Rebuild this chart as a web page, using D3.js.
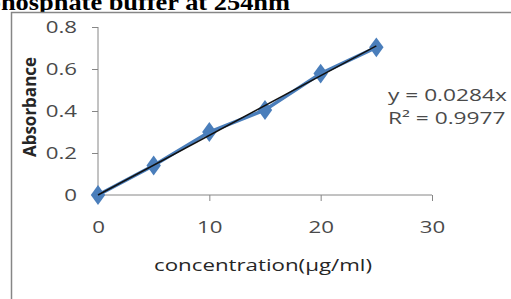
<!DOCTYPE html>
<html>
<head>
<meta charset="utf-8">
<script src="https://cdn.jsdelivr.net/npm/d3@7"></script>
<style>
	body { margin: 0; background: #fff; }
	svg { display: block; }
</style>
</head>
<body>
<div id="container"></div>
<script>
var concentration = [0, 5, 10, 15, 20, 25];
var absorbance = [0, 0.14, 0.30, 0.405, 0.578, 0.703];
var xTicks = [0, 10, 20, 30];
var yTicks = [0, 0.2, 0.4, 0.6, 0.8];
var slope = 0.0284;
var equationLines = ["y = 0.0284x", "R² = 0.9977"];

var width = 511,
	height = 299,
	stretch = 1.35,   // the picture is wider than it is tall, text too
	font = "'Open Sans', 'Noto Sans', sans-serif",
	grey = "#868686",
	blue = "#4a7ebb";

var xScale = d3.scaleLinear()
	.domain([0, 30])
	.range([98, 432])

var yScale = d3.scaleLinear()
	.domain([0, 0.8])
	.range([195, 27])

var svg = d3.select("#container")
	.append('svg')
		.attr("width", width)
		.attr("height", height)

// title, cut off by the top edge
svg.append("text")
	.attr("transform", "translate(290,9.5) scale(1.1,1)")
	.attr("text-anchor", "end")
	.style("font-family", "'Liberation Serif', serif")
	.style("font-weight", "bold")
	.style("font-size", "24px")
	.text("phosphate buffer at 254nm")

// chart frame
svg.append("rect")
	.attr("x", 11.5)
	.attr("y", 12.5)
	.attr("width", 520)
	.attr("height", 300)
	.attr("fill", "#fff")
	.attr("stroke", grey)
	.attr("stroke-width", 1.5)

// axes
var yAxis = d3.axisLeft(yScale)
	.tickValues(yTicks)
	.tickSize(6)
	.tickPadding(15)
	.tickFormat(function(d){ return d === 0 ? "0" : d3.format(".1f")(d) })

var xAxis = d3.axisBottom(xScale)
	.tickValues(xTicks)
	.tickSize(6)
	.tickPadding(20)
	.tickFormat(d3.format("d"))

var gy = svg.append("g")
	.attr("transform", "translate(" + xScale(0) + ",0)")
	.call(yAxis)
gy.select(".domain").remove()
gy.append("line")
	.attr("x1", 0).attr("x2", 0)
	.attr("y1", yScale(0.8)).attr("y2", yScale(0))
	.attr("stroke", grey)
gy.selectAll(".tick").filter(function(d){ return d === 0 }).select("line").remove()

var gx = svg.append("g")
	.attr("transform", "translate(0," + yScale(0) + ")")
	.call(xAxis)
gx.select(".domain").remove()
gx.append("line")
	.attr("x1", xScale(0)).attr("x2", xScale(30))
	.attr("y1", 0).attr("y2", 0)
	.attr("stroke", grey)
gx.selectAll(".tick").filter(function(d){ return d === 0 }).select("line").remove()

svg.selectAll(".tick line").attr("stroke", grey)
svg.selectAll(".tick text")
	.style("font-family", font)
	.style("font-size", "16.5px")
	.attr("fill", "#4a4a4a")
	.attr("x", function(){ return (+d3.select(this).attr("x") || 0) / stretch })
	.attr("transform", "scale(" + stretch + ",1)")

// axis titles
svg.append("text")
	.attr("transform", "translate(36,107) rotate(-90)")
	.attr("text-anchor", "middle")
	.style("font-family", font)
	.style("font-weight", "bold")
	.style("font-size", "17px")
	.attr("fill", "#262626")
	.text("Absorbance")

svg.append("text")
	.attr("transform", "translate(263,271) scale(" + stretch + ",1)")
	.attr("text-anchor", "middle")
	.style("font-family", font)
	.style("font-size", "16.5px")
	.attr("fill", "#262626")
	.text("concentration(µg/ml)")

// data series
var line = d3.line()
	.x(function(d, i){ return xScale(concentration[i]) })
	.y(function(d){ return yScale(d) })

svg.append("path")
	.datum(absorbance)
	.attr("d", line)
	.attr("fill", "none")
	.attr("stroke", blue)
	.attr("stroke-width", 3.5)

svg.selectAll(".pt")
	.data(absorbance)
	.enter().append("path")
		.attr("class", "pt")
		.attr("d", d3.symbol().type(d3.symbolDiamond).size(115))
		.attr("transform", function(d, i){
			return "translate(" + xScale(concentration[i]) + "," + yScale(d) + ") scale(1.25,1)"
		})
		.attr("fill", blue)

// linear trendline
var xMax = d3.max(concentration);
svg.append("line")
	.attr("x1", xScale(0)).attr("y1", yScale(0))
	.attr("x2", xScale(xMax)).attr("y2", yScale(slope * xMax))
	.attr("stroke", "#111")
	.attr("stroke-width", 1.5)

// trendline equation
svg.append("g").selectAll("text")
	.data(equationLines)
	.enter().append("text")
		.attr("transform", function(d, i){
			return "translate(388," + (101 + i * 23) + ") scale(1.42,1)"
		})
		.style("font-family", font)
		.style("font-size", "16px")
		.attr("fill", "#4a4a4a")
		.text(function(d){ return d })
</script>
</body>
</html>
